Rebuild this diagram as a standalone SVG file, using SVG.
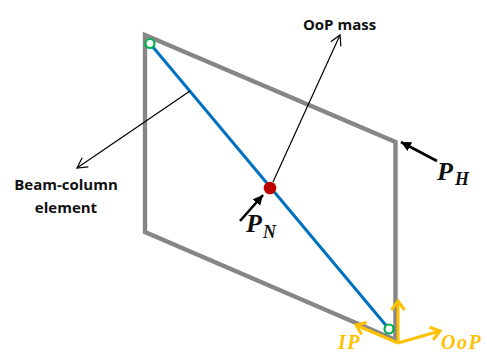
<svg xmlns="http://www.w3.org/2000/svg" width="487" height="355" viewBox="0 0 487 355">
<style>
.lbl{font-family:"Open Sans","Liberation Sans",sans-serif;font-weight:700;font-size:15px;fill:#111;text-anchor:middle}
.m{font-family:"Liberation Serif",serif;font-weight:700;font-style:italic;fill:#111}
.y{fill:#ffc000}
.thin{fill:none;stroke:#000;stroke-width:1.2}
.thick{fill:none;stroke:#000;stroke-width:2.6}
.or{fill:none;stroke:#ffc000;stroke-width:3}
.hinge{fill:#fff;stroke:#00b050;stroke-width:2.2}
</style>
<defs>
<marker id="open" markerUnits="userSpaceOnUse" markerWidth="14" markerHeight="14" refX="11" refY="7" orient="auto"><path d="M1,1.5 L11,7 L1,12.5" fill="none" stroke="#000" stroke-width="1.2"/></marker>
<marker id="solid" markerUnits="userSpaceOnUse" markerWidth="12" markerHeight="12" refX="10" refY="6" orient="auto"><path d="M0,1 L10,6 L0,11 Z" fill="#000"/></marker>
<marker id="yo" markerUnits="userSpaceOnUse" markerWidth="14" markerHeight="16" refX="11" refY="8" orient="auto"><path d="M2,1.5 L11,8 L2,14.5" fill="none" stroke="#ffc000" stroke-width="3"/></marker>
</defs>
<g id="frame"><path d="M145,35 L395.5,142 L395.5,340 L145,232 Z" fill="none" stroke="#868686" stroke-width="4.4"/></g>
<g id="element"><line x1="150" y1="43.5" x2="389" y2="329" stroke="#0070c0" stroke-width="3"/></g>
<g id="connectors">
<line class="thin" x1="190" y1="91" x2="77" y2="168" marker-end="url(#open)"/>
<line class="thin" x1="273" y1="182" x2="340" y2="35" marker-end="url(#open)"/>
<line class="thick" x1="240" y1="221" x2="263" y2="195" marker-end="url(#solid)"/>
<line class="thick" x1="437" y1="161" x2="401" y2="142" marker-end="url(#solid)"/>
<line class="or" x1="398" y1="343" x2="398" y2="301" marker-end="url(#yo)"/>
<line class="or" x1="398" y1="343" x2="356" y2="325" marker-end="url(#yo)"/>
<line class="or" x1="398" y1="343" x2="440" y2="331" marker-end="url(#yo)"/>
</g>
<g id="hinge-top"><circle class="hinge" cx="150" cy="43.5" r="4.5"/></g>
<g id="hinge-bottom"><circle class="hinge" cx="389" cy="329" r="4.5"/></g>
<g id="mass"><circle cx="270" cy="188" r="6.3" fill="#c00000"/></g>
<g id="label-oop-mass"><text class="lbl" x="339.5" y="30">OoP mass</text></g>
<g id="label-element"><text class="lbl" x="66" y="190">Beam-column</text><text class="lbl" x="66" y="213">element</text></g>
<g id="label-pn"><text class="m" x="246" y="232" font-size="26">P</text><text class="m" x="263" y="238" font-size="18">N</text></g>
<g id="label-ph"><text class="m" x="437" y="180" font-size="26">P</text><text class="m" x="455" y="185" font-size="18">H</text></g>
<g id="label-ip"><text class="m y" x="338" y="349" font-size="20" letter-spacing="1.5">IP</text></g>
<g id="label-oop"><text class="m y" x="441" y="349" font-size="20" letter-spacing="1.5">OoP</text></g>
</svg>
